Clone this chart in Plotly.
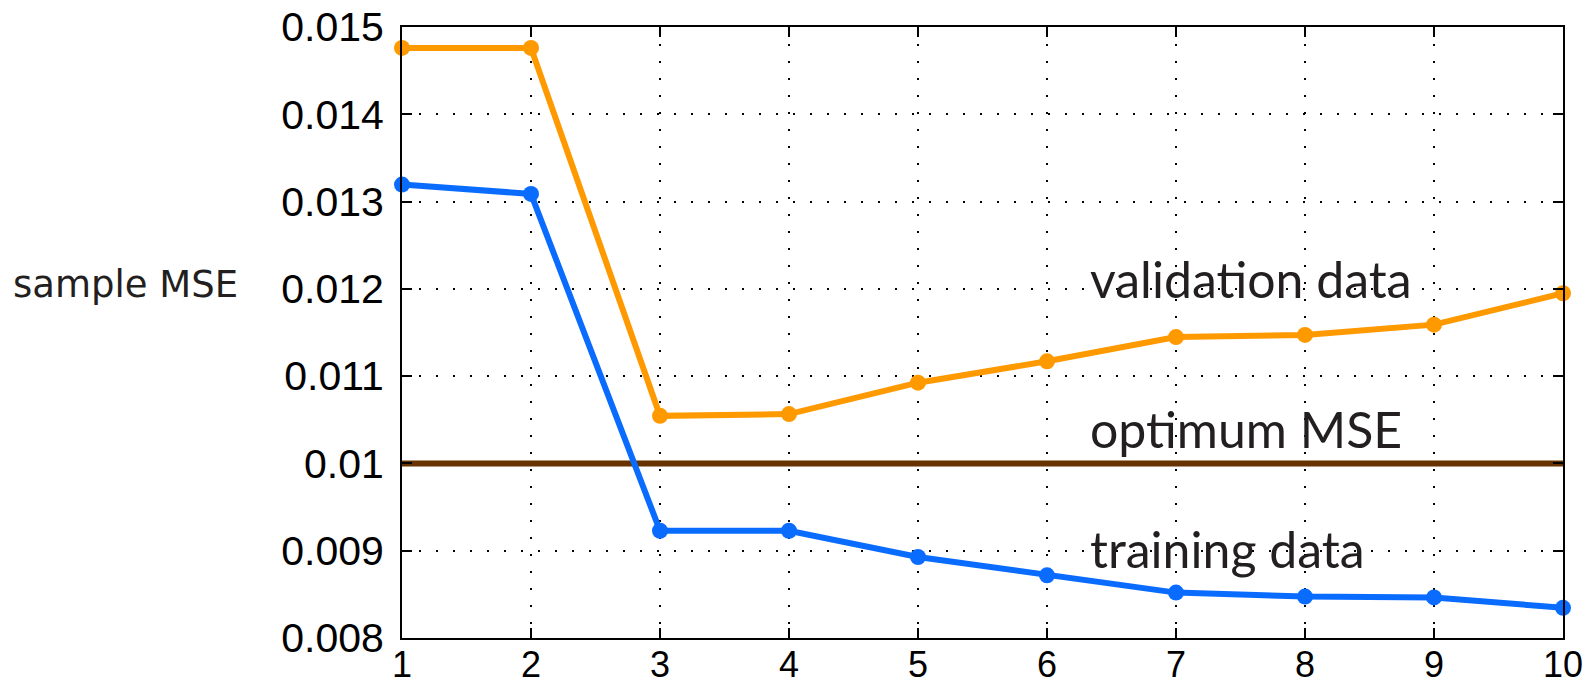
import plotly.graph_objects as go

# ---- data ----
x_vals = [1, 2, 3, 4, 5, 6, 7, 8, 9, 10]
validation_mse = [0.01476, 0.01476, 0.010545, 0.010565, 0.010925, 0.01117,
                  0.011448, 0.011472, 0.01159, 0.01195]
training_mse = [0.013195, 0.013088, 0.009229, 0.009229, 0.008928, 0.008718,
                0.00852, 0.008475, 0.008465, 0.008346]
optimum_mse = 0.01
y_tickvals = [0.008, 0.009, 0.01, 0.011, 0.012, 0.013, 0.014, 0.015]
y_ticktext = ["0.008", "0.009", "0.01", "0.011", "0.012", "0.013", "0.014", "0.015"]
x_tickvals = [1, 2, 3, 4, 5, 6, 7, 8, 9, 10]
x_ticktext = ["1", "2", "3", "4", "5", "6", "7", "8", "9", "10"]

ORANGE = "#FF9900"
BLUE = "#0A6CFF"
BROWN = "#663300"
TEXT = "#231F20"

fig = go.Figure()

fig.add_trace(go.Scatter(
    x=[x_vals[0], x_vals[-1]], y=[optimum_mse, optimum_mse],
    mode="lines", line=dict(color=BROWN, width=6),
    showlegend=False, hoverinfo="skip", cliponaxis=False))

fig.add_trace(go.Scatter(
    x=x_vals, y=validation_mse, mode="lines+markers",
    line=dict(color=ORANGE, width=6), marker=dict(color=ORANGE, size=16),
    showlegend=False, cliponaxis=False))

fig.add_trace(go.Scatter(
    x=x_vals, y=training_mse, mode="lines+markers",
    line=dict(color=BLUE, width=6), marker=dict(color=BLUE, size=16),
    showlegend=False, cliponaxis=False))

ann_font = dict(family="Lato", size=50, color=TEXT)
fig.add_annotation(x=6.32, y=0.012115, xref="x", yref="y", text="validation data",
                   showarrow=False, xanchor="left", yanchor="middle", font=ann_font)
fig.add_annotation(x=6.32, y=0.010394, xref="x", yref="y", text="optimum MSE",
                   showarrow=False, xanchor="left", yanchor="middle", font=ann_font)
fig.add_annotation(x=6.32, y=0.009019, xref="x", yref="y", text="training data",
                   showarrow=False, xanchor="left", yanchor="middle", font=ann_font)
fig.add_annotation(x=0, y=0.01205, xref="paper", yref="y", text="sample MSE",
                   showarrow=False, xanchor="left", yanchor="middle", xshift=-391,
                   font=dict(family="DejaVu Sans", size=37, color=TEXT))

axis_common = dict(
    showline=True, linewidth=2, linecolor="black", mirror="ticks",
    ticks="inside", ticklen=10, tickwidth=2, tickcolor="black",
    showgrid=True, gridcolor="black", gridwidth=1.5, griddash="2px,15px",
    zeroline=False, automargin=False,
)

fig.update_xaxes(range=[1, 10], tickvals=x_tickvals, ticktext=x_ticktext,
                 ticklabelstandoff=-6,
                 tickfont=dict(family="Liberation Sans", size=36, color="black"),
                 **axis_common)
fig.update_yaxes(range=[0.008, 0.015], tickvals=y_tickvals, ticktext=y_ticktext,
                 ticklabelstandoff=8,
                 tickfont=dict(family="Liberation Sans", size=41, color="black"),
                 **axis_common)

fig.update_layout(
    width=1591, height=691,
    margin=dict(l=402, r=28, t=27, b=53, pad=0, autoexpand=False),
    paper_bgcolor="white", plot_bgcolor="white",
)

fig.write_html("out.html")
